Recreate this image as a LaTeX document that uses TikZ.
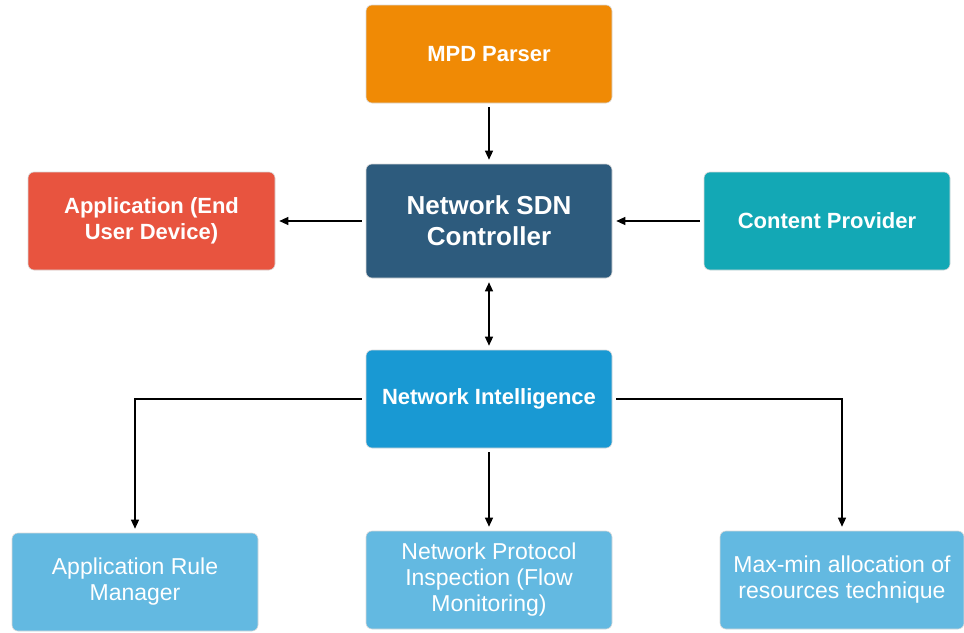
\documentclass[tikz,border=0pt]{standalone}
\usepackage{fontspec}
\setmainfont{Liberation Sans}
\usetikzlibrary{arrows.meta}

\definecolor{orangebox}{HTML}{F08A05}
\definecolor{ctrlbox}{HTML}{2D5B7D}
\definecolor{redbox}{HTML}{E8543F}
\definecolor{tealbox}{HTML}{13A8B5}
\definecolor{bluebox}{HTML}{1999D3}
\definecolor{lightbox}{HTML}{63B9E1}

\begin{document}
\begin{tikzpicture}[x=1pt,y=-1pt,
  box/.style={rounded corners=6pt, text=white, align=center,
    minimum width=246pt, minimum height=98pt, inner sep=0pt,
    draw=white!85!black, line width=0.6pt},
  boldbox/.style={box, font=\fontsize{22}{26}\selectfont\bfseries},
  plainbox/.style={box, fill=lightbox, font=\fontsize{23}{26}\selectfont},
  arr/.style={line width=1.2pt, -{Triangle[length=9pt,width=8pt]},
    shorten >=4pt, shorten <=4pt},
  biarr/.style={arr, {Triangle[length=9pt,width=8pt]}-{Triangle[length=9pt,width=8pt]}}
]
\useasboundingbox (0,0) rectangle (964,632);

% boxes
\node[boldbox, fill=orangebox] (mpd) at (489,54) {MPD Parser};
\node[boldbox, fill=ctrlbox, minimum height=114pt,
      font=\fontsize{26}{31}\selectfont\bfseries] (sdn) at (489,221)
      {Network SDN\\Controller};
\node[boldbox, fill=redbox, minimum width=247pt] (app) at (151.5,221)
      {Application (End\\User Device)};
\node[boldbox, fill=tealbox] (cp) at (827,221) {Content Provider};
\node[boldbox, fill=bluebox] (ni) at (489,399) {Network Intelligence};

\node[plainbox] (arm) at (135,582) {Application Rule\\Manager};
\node[plainbox] (npi) at (489,580) {Network Protocol\\Inspection (Flow\\Monitoring)};
\node[plainbox, minimum width=244pt] (mm) at (842,580)
      {Max-min allocation of\\resources technique};

% connectors
\draw[arr] (mpd) -- (sdn);
\draw[arr] (sdn) -- (app);
\draw[arr] (cp) -- (sdn);
\draw[biarr] (sdn) -- (ni);
\draw[arr] (ni) -- (npi);
\draw[arr] (ni.west) -| (arm.north);
\draw[arr] (ni.east) -| (mm.north);
\end{tikzpicture}
\end{document}
